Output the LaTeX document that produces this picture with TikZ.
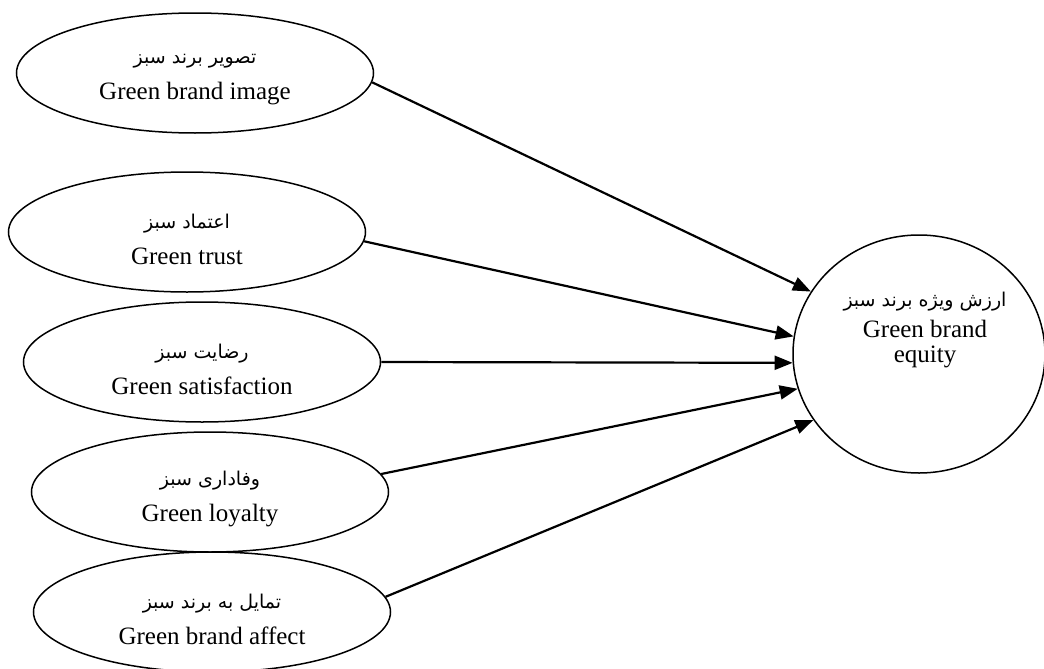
\documentclass[tikz,border=0pt]{standalone}
\usepackage{fontspec}
\setmainfont{Liberation Serif}
\newfontfamily\fafont[Script=Arabic]{DejaVu Sans}
\TeXXeTstate=1
\usetikzlibrary{shapes.geometric,arrows.meta}
\newcommand{\fasize}{\fafont\fontsize{9.5}{12}\selectfont}
\tikzset{
  construct/.style={draw, ellipse, line width=0.75pt, minimum width=178.5pt,
    minimum height=60pt, inner sep=0pt,
    label={[align=center, font=\fontsize{12.5}{18}\selectfont, yshift=-3.5pt]center:#1}},
  outcome/.style={draw, ellipse, line width=0.75pt, minimum width=126pt,
    minimum height=119pt, inner sep=0pt},
  link/.style={line width=1.1pt, -{Triangle[length=9pt,width=7pt]}}
}
\begin{document}
\begin{tikzpicture}[x=0.5pt, y=-0.5pt]
  \useasboundingbox (0,0) rectangle (1044,669);
  \node[construct={{\fasize\beginR تصویر برند سبز\endR}\\Green brand image}] (img) at (195,73) {};
  \node[construct={{\fasize\beginR اعتماد سبز\endR}\\Green trust}] (trs) at (187,232) {};
  \node[construct={{\fasize\beginR رضایت سبز\endR}\\Green satisfaction}] (sat) at (202,362) {};
  \node[construct={{\fasize\beginR وفاداری سبز\endR}\\Green loyalty}] (loy) at (210,492) {};
  \node[construct={{\fasize\beginR تمایل به برند سبز\endR}\\Green brand affect}] (aff) at (212,612) {};
  \node[outcome, label={[align=center, font=\fontsize{12.5}{12.5}\selectfont, xshift=3pt, yshift=12pt]center:{\fasize\beginR ارزش ویژه برند سبز\endR}\\[3pt]Green brand\\equity}] (gbe) at (919,354) {};
  \draw[link] (img.-3.3) -- (gbe.150.7);
  \draw[link] (trs.-3.5) -- (gbe.172.2);
  \draw[link] (sat.0)    -- (gbe.184.5);
  \draw[link] (loy.6.3)  -- (gbe.196.2);
  \draw[link] (aff.5.7)  -- (gbe.212);
\end{tikzpicture}
\end{document}
